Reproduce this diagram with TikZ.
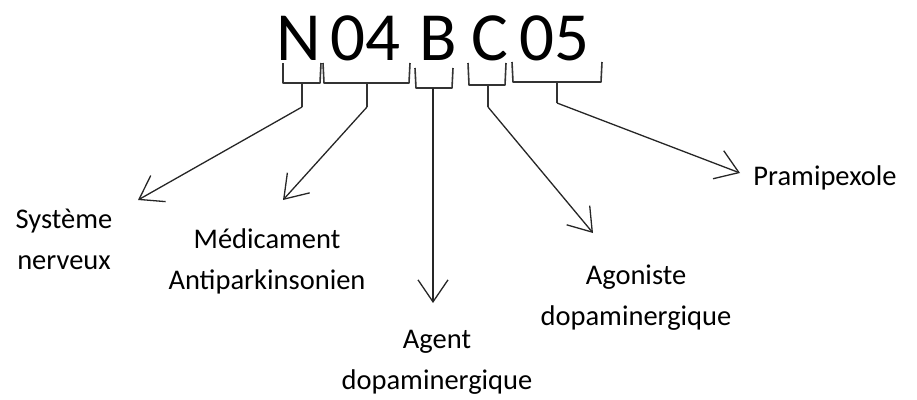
\documentclass[tikz,border=0pt]{standalone}
\usepackage{fontspec}
\setmainfont{Carlito}
\usepackage{tikz}
\usetikzlibrary{positioning}
\usetikzlibrary{arrows.meta}

\tikzset{
    code/.style={font=\fontsize{69}{69}\selectfont, inner sep=0pt, anchor=base},
    lbl/.style={font=\fontsize{28.5}{41}\selectfont, align=center, inner sep=0pt},
    brace/.style={draw=black!80, line width=1.6pt, line join=round},
    arr/.style={-{Straight Barb[length=22pt,width=30pt,line width=1.3pt]}, line width=1.3pt, draw=black!85},
}

\begin{document}
\begin{tikzpicture}[x=1pt, y=-1pt]
        \useasboundingbox (0,0) rectangle (917,399);
        % code letters
        \node[code] (n)   at (298.5, 60) {N};
        \node[code] (c04) at (365.5, 60) {04};
        \node[code] (b)   at (438.0, 60) {B};
        \node[code] (c)   at (489.5, 60) {C};
        \node[code] (c05) at (554.0, 60) {05};
        % braces under each part
        \draw[brace] (283,63) -- (283,83) -- (320,83) -- (321,63);
        \draw[brace] (302,83) -- (302,107) coordinate (nstem);
        \draw[brace] (323,63) -- (324,83) -- (409,83) -- (410,63);
        \draw[brace] (367,83) -- (367,107) coordinate (c04stem);
        \draw[brace] (415,68) -- (416,88) -- (452,88) -- (453,68);
        \coordinate (bstem) at (433,88);
        \draw[brace] (468,63) -- (469,85) -- (505,85) -- (506,63);
        \draw[brace] (488,85) -- (488,107) coordinate (cstem);
        \draw[brace] (512,62) -- (513,82) -- (601,82) -- (602,62);
        \draw[brace] (557,82) -- (557,103) coordinate (c05stem);
        % labels
        \node[lbl] (sys)  at (64, 239)  {Système\\nerveux};
        \node[lbl] (med)  at (267, 261) {Médicament\\Antiparkinsonien};
        \node[lbl] (agt)  at (437, 362) {Agent\\dopaminergique};
        \node[lbl] (ago)  at (636, 298) {Agoniste\\dopaminergique};
        \node[lbl] (pram) at (825, 178) {Pramipexole};
        % arrow tips
        \coordinate (systip)  at (138, 200);
        \coordinate (medtip)  at (283, 200);
        \coordinate (agttip)  at (433, 303);
        \coordinate (agotip)  at (593, 233);
        \coordinate (pramtip) at (740, 173);
        \draw[arr] (nstem) -- (systip);
        \draw[arr] (c04stem) -- (medtip);
        \draw[arr] (bstem) -- (agttip);
        \draw[arr] (cstem) -- (agotip);
        \draw[arr] (c05stem) -- (pramtip);
\end{tikzpicture}
\end{document}
